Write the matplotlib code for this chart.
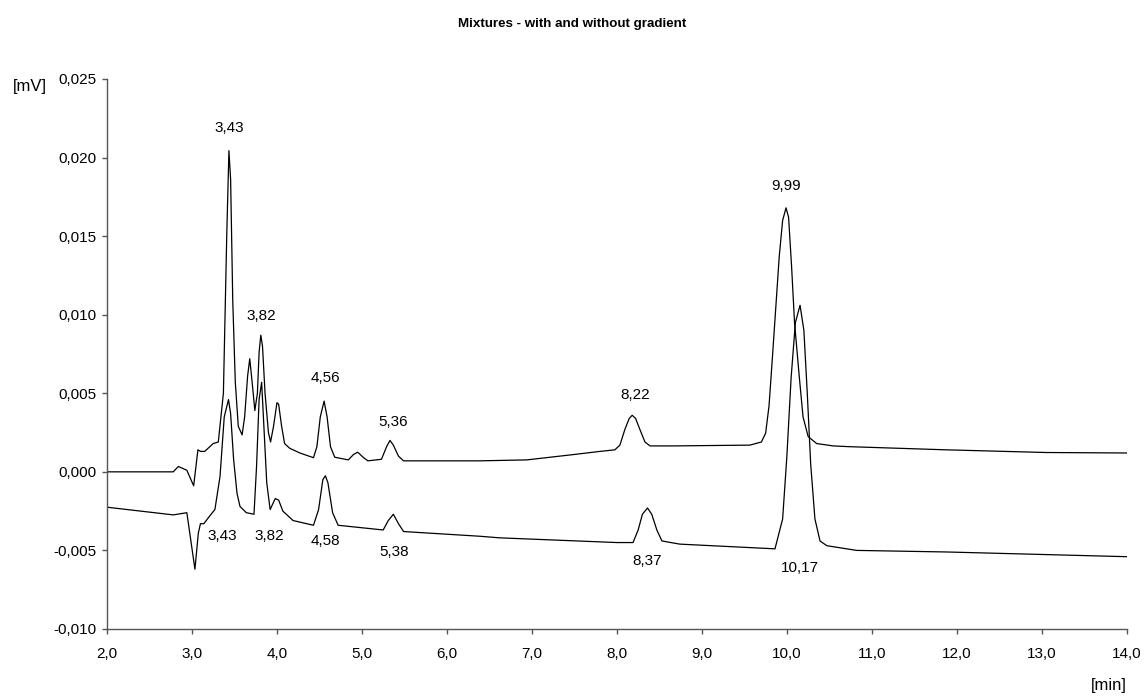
import matplotlib
matplotlib.use("Agg")
import matplotlib.pyplot as plt
from matplotlib.ticker import FuncFormatter, MultipleLocator

plt.rcParams['font.family'] = ['Liberation Sans', 'DejaVu Sans']

# upper trace: time [min], signal [mV]
upper_t = [2.00, 2.78, 2.84, 2.94, 3.02, 3.07, 3.10, 3.15, 3.25, 3.31, 3.37, 3.41,
           3.435, 3.455, 3.48, 3.51, 3.545, 3.59, 3.62, 3.655, 3.68, 3.71, 3.74,
           3.77, 3.79, 3.81, 3.83, 3.86, 3.90, 3.925, 3.96, 4.00, 4.02, 4.055,
           4.09, 4.15, 4.27, 4.43, 4.47, 4.51, 4.555, 4.59, 4.63, 4.68, 4.84,
           4.90, 4.95, 5.02, 5.07, 5.23, 5.29, 5.33, 5.37, 5.43, 5.49, 6.39,
           6.94, 7.49, 7.80, 7.976, 8.035, 8.094, 8.145, 8.18, 8.22, 8.27, 8.33,
           8.39, 8.67, 9.565, 9.70, 9.75, 9.79, 9.83, 9.87, 9.91, 9.95, 9.99,
           10.02, 10.055, 10.09, 10.145, 10.19, 10.25, 10.35, 10.545, 10.74,
           11.88, 13.05, 14.00]
upper_v = [0.0000, 0.0000, 0.00034, 0.0001, -0.00089, 0.0014, 0.0013, 0.0013, 0.0018,
           0.0019, 0.0050, 0.0152, 0.02044, 0.0186, 0.0109, 0.0057, 0.0029, 0.00235,
           0.0035, 0.0061, 0.0072, 0.0056, 0.0039, 0.0050, 0.0076, 0.0087, 0.0080,
           0.0050, 0.0025, 0.0019, 0.0029, 0.0044, 0.0043, 0.0029, 0.0018, 0.0015,
           0.0012, 0.0009, 0.0016, 0.0035, 0.0045, 0.0035, 0.0016, 0.00093, 0.00076,
           0.0011, 0.00125, 0.0009, 0.0007, 0.0008, 0.0016, 0.0020, 0.0017, 0.0010,
           0.0007, 0.0007, 0.00076, 0.0011, 0.0013, 0.0014, 0.0017, 0.0027, 0.0034,
           0.0036, 0.0034, 0.0027, 0.0019, 0.00165, 0.00165, 0.0017, 0.0019, 0.00246,
           0.0042, 0.0073, 0.0105, 0.0137, 0.0160, 0.0168, 0.0162, 0.0131, 0.0095,
           0.0061, 0.0035, 0.00225, 0.0018, 0.00165, 0.0016, 0.0014, 0.00123, 0.0012]

# lower trace
lower_t = [2.00, 2.78, 2.94, 2.985, 3.035, 3.075, 3.10, 3.14, 3.21, 3.27, 3.33, 3.38,
           3.43, 3.455, 3.49, 3.53, 3.565, 3.64, 3.73, 3.76, 3.79, 3.82, 3.85, 3.88,
           3.92, 3.98, 4.02, 4.07, 4.19, 4.43, 4.49, 4.54, 4.57, 4.60, 4.655, 4.72,
           5.25, 5.31, 5.37, 5.43, 5.49, 6.39, 6.62, 8.00, 8.19, 8.25, 8.30, 8.36,
           8.41, 8.47, 8.53, 8.74, 9.86, 9.95, 10.00, 10.05, 10.10, 10.155, 10.20,
           10.24, 10.28, 10.33, 10.39, 10.47, 10.82, 11.88, 14.00]
lower_v = [-0.00225, -0.00274, -0.0026, -0.0043, -0.0062, -0.0039, -0.0033, -0.0033,
           -0.0028, -0.0024, -0.0003, 0.0035, 0.0046, 0.0037, 0.0008, -0.00136, -0.0022,
           -0.0026, -0.0027, 0.00034, 0.0046, 0.0057, 0.0025, -0.0007, -0.0024, -0.0017,
           -0.0018, -0.0025, -0.0031, -0.0034, -0.0024, -0.0005, -0.00025, -0.0007,
           -0.0026, -0.0034, -0.0037, -0.0031, -0.0027, -0.0033, -0.0038, -0.0041,
           -0.0042, -0.0045, -0.0045, -0.0037, -0.0027, -0.0023, -0.0027, -0.0037,
           -0.0044, -0.0046, -0.0049, -0.0030, 0.0010, 0.0060, 0.0095, 0.0106, 0.0090,
           0.0050, 0.0005, -0.0030, -0.0044, -0.0047, -0.0050, -0.0051, -0.0054]

# peak labels: text, time, y position
upper_labels = ["3,43", "3,82", "4,56", "5,36", "8,22", "9,99"]
upper_label_t = [3.435, 3.82, 4.565, 5.37, 8.22, 9.985]
upper_label_y = [0.0219, 0.0099, 0.0060, 0.0032, 0.0049, 0.0182]
lower_labels = ["3,43", "3,82", "4,58", "5,38", "8,37", "10,17"]
lower_label_t = [3.36, 3.905, 4.565, 5.38, 8.36, 10.15]
lower_label_y = [-0.0041, -0.0041, -0.0044, -0.0051, -0.00565, -0.0061]


def comma(fmt):
    return FuncFormatter(lambda v, pos: (fmt % v).replace('.', ','))


fig = plt.figure(figsize=(11.44, 6.96), dpi=100)
ax = fig.add_axes([0.0935, 0.0963, 0.8915, 0.7902])

ax.plot(upper_t, upper_v, color='black', lw=0.9)
ax.plot(lower_t, lower_v, color='black', lw=0.9)

for txt, t, y in zip(upper_labels, upper_label_t, upper_label_y):
    ax.text(t, y, txt, ha='center', va='center', fontsize=11)
for txt, t, y in zip(lower_labels, lower_label_t, lower_label_y):
    ax.text(t, y, txt, ha='center', va='center', fontsize=11)

ax.set_xlim(2.0, 14.0)
ax.set_ylim(-0.010, 0.025)
ax.xaxis.set_major_locator(MultipleLocator(1.0))
ax.yaxis.set_major_locator(MultipleLocator(0.005))
ax.xaxis.set_major_formatter(comma('%.1f'))
ax.yaxis.set_major_formatter(comma('%.3f'))

for side in ['top', 'right']:
    ax.spines[side].set_visible(False)
for side in ['left', 'bottom']:
    ax.spines[side].set_color('#555555')
    ax.spines[side].set_linewidth(1.0)
ax.tick_params(direction='out', length=3.8, width=1.0, color='#555555',
               labelsize=11)
ax.tick_params(axis='x', pad=9)
ax.tick_params(axis='y', pad=3.5)

fig.text(0.5, 0.965, 'Mixtures - with and without gradient', ha='center',
         va='center', fontsize=9.6, fontweight='bold')
fig.text(0.026, 0.875, '[mV]', ha='center', va='center', fontsize=12)
fig.text(0.985, 0.015, '[min]', ha='right', va='center', fontsize=12)

fig.savefig('out.png', dpi=100)
